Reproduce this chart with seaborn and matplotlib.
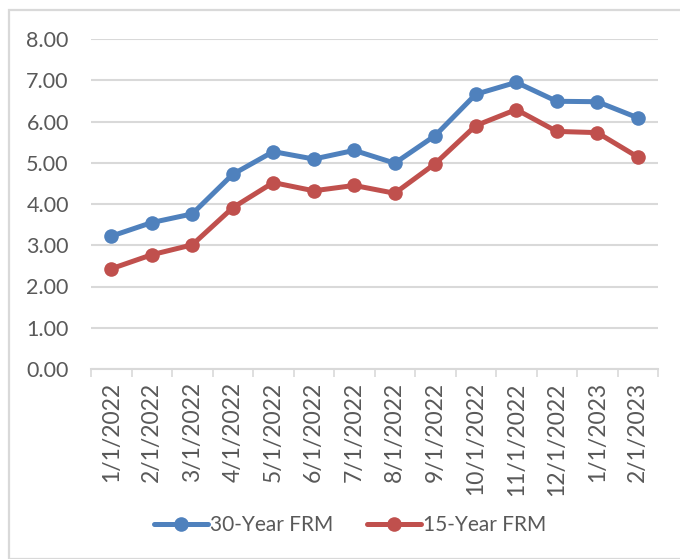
import matplotlib
matplotlib.use("Agg")
import matplotlib.pyplot as plt
import matplotlib.patches as mpatches
from matplotlib.lines import Line2D
import seaborn as sns
import pandas as pd

# Monthly average fixed-rate mortgage rates (%)
months = ["1/1/2022", "2/1/2022", "3/1/2022", "4/1/2022", "5/1/2022", "6/1/2022",
          "7/1/2022", "8/1/2022", "9/1/2022", "10/1/2022", "11/1/2022", "12/1/2022",
          "1/1/2023", "2/1/2023"]
rate_30yr = [3.22, 3.55, 3.76, 4.72, 5.27, 5.09, 5.30, 4.99, 5.66, 6.66, 6.95, 6.49, 6.48, 6.09]
rate_15yr = [2.43, 2.77, 3.01, 3.91, 4.52, 4.32, 4.45, 4.26, 4.98, 5.90, 6.29, 5.76, 5.73, 5.14]
series_names = ["30-Year FRM", "15-Year FRM"]
y_ticks = [0, 1, 2, 3, 4, 5, 6, 7, 8]

colors = {"30-Year FRM": "#4F81BD", "15-Year FRM": "#C0504D"}

df = pd.concat([
    pd.DataFrame({"month": months, "rate": rate_30yr, "series": series_names[0]}),
    pd.DataFrame({"month": months, "rate": rate_15yr, "series": series_names[1]}),
])

sns.set_theme(style="white")
plt.rcParams["font.family"] = ["Lato", "DejaVu Sans"]

W, H = 680, 559
fig = plt.figure(figsize=(W / 100, H / 100), dpi=100)
ax = fig.add_axes([91 / W, (H - 369) / H, (658 - 91) / W, (369 - 39) / H])

LW, MS = 3.6, 10.5
sns.lineplot(data=df, x="month", y="rate", hue="series", palette=colors,
             sort=False, marker="o", markersize=MS, markeredgewidth=0,
             linewidth=LW, ax=ax, legend=False)

ax.set_xlim(-0.5, len(months) - 0.5)
ax.set_ylim(0, 8)
ax.set_yticks(y_ticks)
ax.set_yticklabels([f"{v:.2f}" for v in y_ticks])
ax.set_xticks(range(len(months)))
ax.set_xticklabels(months, rotation=90)
ax.set_xticks([i - 0.5 for i in range(len(months) + 1)], minor=True)
ax.set_xlabel("")
ax.set_ylabel("")

grid_c = "#D9D9D9"
text_c = "#595959"
ax.yaxis.grid(True, color=grid_c, linewidth=1.5)
ax.set_axisbelow(True)
for side in ["top", "right", "left"]:
    ax.spines[side].set_visible(False)
ax.spines["bottom"].set_color(grid_c)
ax.spines["bottom"].set_linewidth(1.5)

ax.tick_params(axis="y", length=0, pad=16, labelsize=15.5, labelcolor=text_c)
ax.tick_params(axis="x", which="major", length=0, pad=9.5, labelsize=16.5, labelcolor=text_c)
ax.tick_params(axis="x", which="minor", length=6, width=1.2, color=grid_c)
ax.tick_params(axis="x", which="minor", bottom=True)

# legend below the axis labels
handles = [Line2D([0], [0], color=colors[n], lw=LW, marker="o", markersize=MS,
                  markeredgewidth=0) for n in series_names]
fig.legend(handles, series_names, loc="center", bbox_to_anchor=(350 / W, 1 - 525 / H),
           ncol=2, frameon=False, fontsize=15, handlelength=2.6, columnspacing=1.6,
           handletextpad=0.1, labelcolor=text_c)

# chart area border
fig.patches.append(mpatches.Rectangle((9 / W, 0), 1.0, 1 - 10 / H, transform=fig.transFigure,
                                      fill=False, edgecolor=grid_c, linewidth=1.6))

# chart title, sitting mostly above the canvas
fig.text(205 / W, 1 + 2.5 / H, "Monthly Mortgage Rates", ha="left", va="baseline",
         color="#0E56B0", fontsize=13, fontweight="bold")

fig.savefig("out.png", dpi=100)
